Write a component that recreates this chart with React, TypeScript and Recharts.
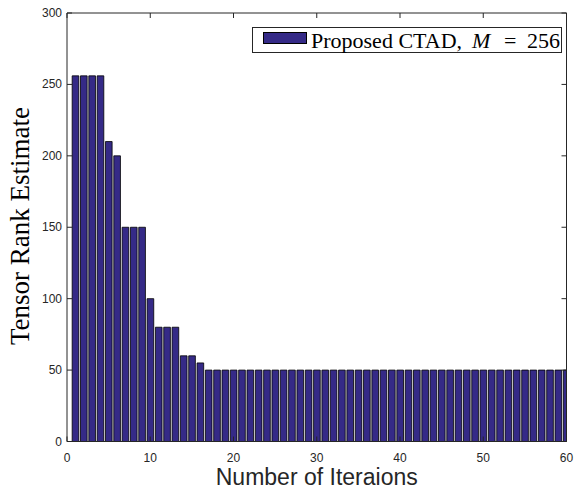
import React from "react";
import { ComposedChart, Bar, Line, XAxis, YAxis } from "recharts";

// Iteration index and the estimated tensor rank at each iteration
const iterations = [
  1, 2, 3, 4, 5, 6, 7, 8, 9, 10,
  11, 12, 13, 14, 15, 16, 17, 18, 19, 20,
  21, 22, 23, 24, 25, 26, 27, 28, 29, 30,
  31, 32, 33, 34, 35, 36, 37, 38, 39, 40,
  41, 42, 43, 44, 45, 46, 47, 48, 49, 50,
  51, 52, 53, 54, 55, 56, 57, 58, 59, 60,
];
const rankEstimate = [
  256, 256, 256, 256, 210, 200, 150, 150, 150, 100,
  80, 80, 80, 60, 60, 55, 50, 50, 50, 50,
  50, 50, 50, 50, 50, 50, 50, 50, 50, 50,
  50, 50, 50, 50, 50, 50, 50, 50, 50, 50,
  50, 50, 50, 50, 50, 50, 50, 50, 50, 50,
  50, 50, 50, 50, 50, 50, 50, 50, 50, 50,
];
const xTicks = [0, 10, 20, 30, 40, 50, 60];
const yTicks = [0, 50, 100, 150, 200, 250, 300];
const seriesName = "Proposed CTAD";

const data = iterations.map((it, i) => ({ it, rank: rankEstimate[i] }));

const AX = "#262626";
const BAR = "#352a87";
const TICK_FONT = "'Liberation Sans', Arial, Helvetica, sans-serif";
const SERIF = "'Liberation Serif', 'Times New Roman', serif";

const BottomTick = (props: any) => {
  const { x, y, payload } = props;
  return (
    <g>
      <line x1={x} x2={x} y1={y} y2={y - 5} stroke={AX} strokeWidth={1} />
      <text x={x} y={y + 20} textAnchor="middle" fontSize={12} fill={AX} fontFamily={TICK_FONT}>
        {payload.value}
      </text>
    </g>
  );
};

const TopTick = (props: any) => {
  const { x, y } = props;
  return <line x1={x} x2={x} y1={y} y2={y + 5} stroke={AX} strokeWidth={1} />;
};

const LeftTick = (props: any) => {
  const { x, y, payload } = props;
  return (
    <g>
      <line x1={x} x2={x + 5} y1={y} y2={y} stroke={AX} strokeWidth={1} />
      <text x={x - 5} y={y + 4} textAnchor="end" fontSize={12} fill={AX} fontFamily={TICK_FONT}>
        {payload.value}
      </text>
    </g>
  );
};

const RightTick = (props: any) => {
  const { x, y } = props;
  return <line x1={x} x2={x - 5} y1={y} y2={y} stroke={AX} strokeWidth={1} />;
};

// Legend box in the upper right corner of the plot
const LegendBox = () => (
  <svg
    width={310}
    height={26}
    style={{ position: "absolute", left: 252, top: 27 }}
  >
    <rect x={0.5} y={0.5} width={309} height={25} fill="#fff" stroke={AX} strokeWidth={1} />
    <rect x={11.5} y={5.5} width={43} height={11} fill={BAR} stroke="#000" strokeWidth={1} />
    <text y={21} fontSize={22} fontFamily={SERIF} fill="#000">
      <tspan x={59}>{seriesName},</tspan>
      <tspan x={220} fontStyle="italic">M</tspan>
      <tspan x={252}>=</tspan>
      <tspan x={275}>256</tspan>
    </text>
  </svg>
);

export default function App() {
  return (
    <div style={{ position: "absolute", left: 0, top: 0, width: 575, height: 490, background: "#fff" }}>
      <ComposedChart
        width={575}
        height={490}
        data={data}
        margin={{ top: 12, right: 7.5, left: 0, bottom: 0 }}
        barCategoryGap={0}
      >
        <XAxis
          dataKey="it"
          type="number"
          domain={[0, 60]}
          ticks={xTicks}
          allowDataOverflow
          height={48.5}
          stroke={AX}
          tickLine={false}
          tickSize={0}
          tickMargin={0}
          tick={<BottomTick />}
          interval={0}
          label={{
            content: (p: any) => {
              const vb = p.viewBox;
              return (
                <text
                  x={vb.x + vb.width / 2}
                  y={vb.y + 43}
                  textAnchor="middle"
                  fontSize={23}
                  fill={AX}
                  fontFamily={TICK_FONT}
                >
                  Number of Iteraions
                </text>
              );
            },
          }}
        />
        <XAxis
          xAxisId="top"
          dataKey="it"
          type="number"
          orientation="top"
          domain={[0, 60]}
          ticks={xTicks}
          height={1}
          stroke={AX}
          tickLine={false}
          tickSize={0}
          tickMargin={0}
          tick={<TopTick />}
          interval={0}
        />
        <YAxis
          type="number"
          domain={[0, 300]}
          ticks={yTicks}
          width={67}
          stroke={AX}
          tickLine={false}
          tickSize={0}
          tickMargin={0}
          tick={<LeftTick />}
          interval={0}
          label={{
            content: () => (
              <text
                x={29}
                y={226}
                transform="rotate(-90 29 226)"
                textAnchor="middle"
                fontSize={27}
                fill="#000"
                fontFamily={SERIF}
              >
                Tensor Rank Estimate
              </text>
            ),
          }}
        />
        <YAxis
          yAxisId="right"
          type="number"
          orientation="right"
          domain={[0, 300]}
          ticks={yTicks}
          width={1}
          stroke={AX}
          tickLine={false}
          tickSize={0}
          tickMargin={0}
          tick={<RightTick />}
          interval={0}
        />
        <Bar
          dataKey="rank"
          name={seriesName}
          fill={BAR}
          stroke="#000"
          strokeWidth={0.8}
          barSize={6.66}
          isAnimationActive={false}
        />
        {/* invisible series that keeps the top and right frame axes bound */}
        <Line
          xAxisId="top"
          yAxisId="right"
          dataKey="rank"
          stroke="none"
          dot={false}
          activeDot={false}
          legendType="none"
          isAnimationActive={false}
        />
      </ComposedChart>
      <LegendBox />
    </div>
  );
}
